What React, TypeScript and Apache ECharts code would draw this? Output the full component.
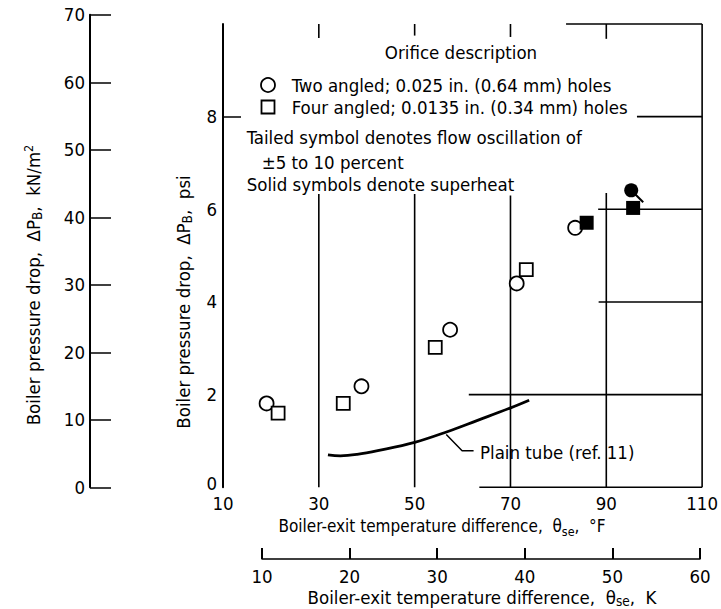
import React, { useEffect, useRef } from "react";
import * as echarts from "echarts";

const FONT = '"DejaVu Sans Condensed", "Liberation Sans Narrow", "DejaVu Sans", sans-serif';

// Tick labels
const psiTicks = [0, 2, 4, 6, 8];
const psiTickMarks = [8];
const kpaTicks = [0, 10, 20, 30, 40, 50, 60, 70];
const degFTicks = [10, 30, 50, 70, 90, 110];
const kelvinTicks = [10, 20, 30, 40, 50, 60];

// Data (x: boiler-exit temperature difference, F; y: pressure drop, psi)
const twoAngledOpen = [
  [19.1, 1.81],
  [38.9, 2.18],
  [57.4, 3.4],
  [71.3, 4.4],
  [83.5, 5.6],
];
const twoAngledSolidTailed = [[95.2, 6.41]];
const fourAngledOpen = [
  [21.5, 1.6],
  [35.1, 1.81],
  [54.3, 3.02],
  [73.3, 4.7],
];
const fourAngledSolid = [
  [85.9, 5.71],
  [95.6, 6.03],
];
const plainTube = [
  [31.9, 0.7],
  [34.5, 0.68],
  [38.0, 0.71],
  [42.3, 0.79],
  [50.0, 0.97],
  [56.8, 1.2],
  [63.0, 1.44],
  [69.9, 1.71],
  [73.9, 1.88],
];
const plainTubeLeader = [
  [56.6, 1.14],
  [59.9, 0.79],
  [62.3, 0.79],
];
// Partial grid lines of the original drawing: [x1, y1, x2, y2]
const gridSegments = [
  [30, 10, 30, 9.7],
  [30, 6.33, 30, 0],
  [50, 10, 50, 9.75],
  [50, 6.33, 50, 0],
  [70, 10, 70, 9.72],
  [70, 6.3, 70, 0],
  [90, 10, 90, 9.68],
  [90, 6.35, 90, 0],
  [110, 10, 110, 0],
  [81.6, 10, 110, 10],
  [96.4, 8, 110, 8],
  [88.3, 6, 110, 6],
  [88.4, 4, 110, 4],
  [61.3, 2, 110, 2],
  [63.5, 0, 110, 0],
];

const FS = 18.5;
const TXT = { fontFamily: FONT, fontSize: FS, fill: "#000" };
const makeRich = (fs: number) => ({
  sub: { fontFamily: FONT, fontSize: fs * 0.73, lineHeight: 12, verticalAlign: "bottom" as const, fill: "#000", color: "#000" },
  sup: { fontFamily: FONT, fontSize: fs * 0.68, lineHeight: 11, verticalAlign: "top" as const, fill: "#000", color: "#000" },
  n: { fontFamily: FONT, fontSize: fs, lineHeight: 22, fill: "#000", color: "#000" },
});
const rich = makeRich(FS);
const richSmall = makeRich(17);

export default function App() {
  const ref = useRef<HTMLDivElement>(null);
  useEffect(() => {
    if (!ref.current) return;
    const chart = echarts.init(ref.current, undefined, { renderer: "svg" });
    const axisLabelStyle = { fontFamily: FONT, fontSize: FS, color: "#000", lineHeight: 14 };
    const option: any = {
      animation: false,
      backgroundColor: "#fff",
      grid: [
        { left: 223, right: 13.5, top: 24, bottom: 121.7 },
        { left: 90, width: 30, top: 14.8, bottom: 121.7 },
        { left: 262, right: 21, top: 500, bottom: 50 },
      ],
      xAxis: [
        {
          gridIndex: 0,
          type: "value",
          min: 10,
          max: 110,
          axisLine: { show: false },
          axisTick: { show: false },
          splitLine: { show: false },
          axisLabel: { customValues: degFTicks, margin: 9, ...axisLabelStyle },
        },
        { gridIndex: 1, type: "value", show: false, min: 0, max: 1 },
        {
          gridIndex: 2,
          type: "value",
          min: 10,
          max: 60,
          axisLine: { show: true, lineStyle: { color: "#000", width: 1.5 } },
          axisTick: { show: true, inside: true, length: 11, customValues: kelvinTicks, lineStyle: { color: "#000", width: 2 } },
          splitLine: { show: false },
          axisLabel: { customValues: kelvinTicks, margin: 10, ...axisLabelStyle },
        },
      ],
      yAxis: [
        {
          gridIndex: 0,
          type: "value",
          min: 0,
          max: 10,
          axisLine: { show: true, lineStyle: { color: "#000", width: 2 } },
          axisTick: { show: true, inside: true, length: 18, customValues: psiTickMarks, lineStyle: { color: "#000", width: 1.5 } },
          splitLine: { show: false },
          axisLabel: {
            customValues: psiTicks,
            margin: 6,
            ...axisLabelStyle,
            formatter: (v: number) => (v === 0 ? "{z|0}" : String(v)),
            rich: { z: { fontFamily: FONT, fontSize: FS, color: "#000", lineHeight: 14, padding: [0, 0, 7, 0] } },
          },
        },
        {
          gridIndex: 1,
          type: "value",
          min: 0,
          max: 70,
          interval: 10,
          axisLine: { show: true, lineStyle: { color: "#000", width: 2 } },
          axisTick: { show: true, inside: true, length: 21, lineStyle: { color: "#000", width: 1.5 } },
          splitLine: { show: false },
          axisLabel: { customValues: kpaTicks, margin: 5, ...axisLabelStyle },
        },
        { gridIndex: 2, type: "value", show: false, min: 0, max: 1 },
      ],
      series: [
        {
          name: "grid",
          type: "custom",
          xAxisIndex: 0,
          yAxisIndex: 0,
          silent: true,
          data: gridSegments,
          encode: { x: [0, 2], y: [1, 3] },
          renderItem: (_p: any, api: any) => {
            const a = api.coord([api.value(0), api.value(1)]);
            const b = api.coord([api.value(2), api.value(3)]);
            return {
              type: "line",
              shape: { x1: a[0], y1: a[1], x2: b[0], y2: b[1] },
              style: { stroke: "#000", lineWidth: 1.6 },
            };
          },
          z: 1,
        },
        {
          name: "Plain tube (ref. 11)",
          type: "line",
          data: plainTube,
          smooth: 0.4,
          showSymbol: false,
          symbol: "none",
          lineStyle: { color: "#000", width: 2.8 },
          z: 2,
        },
        {
          name: "leader",
          type: "line",
          data: plainTubeLeader,
          showSymbol: false,
          symbol: "none",
          lineStyle: { color: "#000", width: 1.5 },
          z: 2,
        },
        {
          name: "Two angled; 0.025 in. (0.64 mm) holes",
          type: "scatter",
          data: twoAngledOpen,
          symbol: "circle",
          symbolSize: 14,
          itemStyle: { color: "#fff", borderColor: "#000", borderWidth: 1.8, opacity: 1 },
          z: 3,
        },
        {
          name: "Four angled; 0.0135 in. (0.34 mm) holes",
          type: "scatter",
          data: fourAngledOpen,
          symbol: "rect",
          symbolSize: 13,
          itemStyle: { color: "#fff", borderColor: "#000", borderWidth: 1.8, opacity: 1 },
          z: 3,
        },
        {
          name: "Four angled, superheat",
          type: "scatter",
          data: fourAngledSolid,
          symbol: "rect",
          symbolSize: 14,
          itemStyle: { color: "#000", opacity: 1 },
          z: 4,
        },
        {
          name: "Two angled, superheat, oscillating",
          type: "custom",
          data: twoAngledSolidTailed,
          renderItem: (_p: any, api: any) => {
            const c = api.coord([api.value(0), api.value(1)]);
            return {
              type: "group",
              children: [
                { type: "line", shape: { x1: c[0] + 3, y1: c[1] + 3, x2: c[0] + 12, y2: c[1] + 12 }, style: { stroke: "#000", lineWidth: 2 } },
                { type: "circle", shape: { cx: c[0], cy: c[1], r: 7 }, style: { fill: "#000" } },
              ],
            };
          },
          z: 4,
        },
      ],
      graphic: [
        { type: "text", x: 461, y: 52, style: { ...TXT, text: "Orifice description", textAlign: "center", textVerticalAlign: "middle" } },
        { type: "circle", shape: { cx: 268, cy: 85, r: 7 }, style: { fill: "#fff", stroke: "#000", lineWidth: 1.8 } },
        { type: "text", x: 291.7, y: 85, style: { ...TXT, text: "Two angled; 0.025 in. (0.64 mm) holes", textVerticalAlign: "middle" } },
        { type: "rect", shape: { x: 261.5, y: 100.5, width: 13, height: 13 }, style: { fill: "#fff", stroke: "#000", lineWidth: 1.8 } },
        { type: "text", x: 291.7, y: 107, style: { ...TXT, text: "Four angled; 0.0135 in. (0.34 mm) holes", textVerticalAlign: "middle" } },
        { type: "text", x: 246.7, y: 137, style: { ...TXT, text: "Tailed symbol denotes flow oscillation of", textVerticalAlign: "middle" } },
        { type: "text", x: 261.7, y: 162, style: { ...TXT, text: "±5 to 10 percent", textVerticalAlign: "middle" } },
        { type: "text", x: 246.7, y: 184, style: { ...TXT, text: "Solid symbols denote superheat", textVerticalAlign: "middle" } },
        { type: "text", x: 480, y: 452, style: { ...TXT, text: "Plain tube (ref. 11)", textVerticalAlign: "middle" } },
        {
          type: "text",
          x: 442,
          y: 526,
          style: {
            text: "{n|Boiler-exit temperature difference,  θ}{sub|se}{n|,  °F}",
            rich: richSmall,
            textAlign: "center",
            textVerticalAlign: "middle",
          },
        },
        {
          type: "text",
          x: 482,
          y: 597,
          style: {
            text: "{n|Boiler-exit temperature difference,  θ}{sub|se}{n|,  K}",
            rich,
            textAlign: "center",
            textVerticalAlign: "middle",
          },
        },
        {
          type: "text",
          x: 183,
          y: 302,
          rotation: Math.PI / 2,
          style: {
            text: "{n|Boiler pressure drop,  ΔP}{sub|B}{n|,  psi}",
            rich,
            textAlign: "center",
            textVerticalAlign: "middle",
          },
        },
        {
          type: "text",
          x: 33,
          y: 285,
          rotation: Math.PI / 2,
          style: {
            text: "{n|Boiler pressure drop,  ΔP}{sub|B}{n|,  kN/m}{sup|2}",
            rich,
            textAlign: "center",
            textVerticalAlign: "middle",
          },
        },
      ],
    };
    chart.setOption(option);
    return () => chart.dispose();
  }, []);
  return (
    <div
      ref={ref}
      style={{ position: "absolute", left: 0, top: 0, width: 721, height: 609, background: "#fff" }}
    />
  );
}
